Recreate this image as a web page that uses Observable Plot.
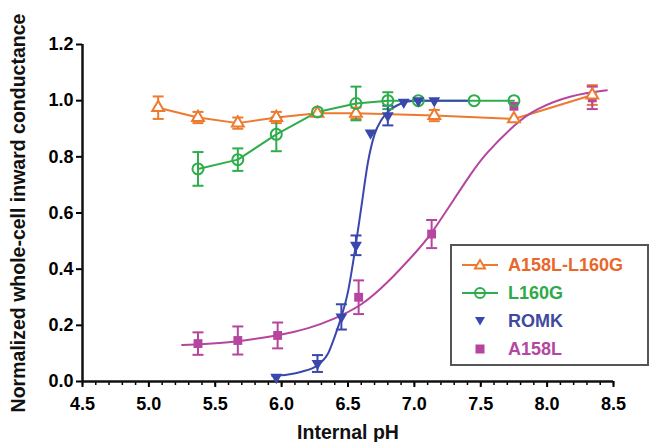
<!DOCTYPE html>
<html>
<head>
<meta charset="utf-8">
<script src="https://cdn.jsdelivr.net/npm/d3@7"></script>
<script src="https://cdn.jsdelivr.net/npm/@observablehq/plot@0.6"></script>
<style>
  html, body { margin: 0; padding: 0; background: #fff; }
  #wrap { position: relative; width: 651px; height: 442px; font-family: 'Liberation Sans', Arial, sans-serif; }
  #legend { position: absolute; left: 450px; top: 244px; width: 195px; height: 118px; border: 2px solid #555; background: #fff; box-sizing: content-box; }
  .row { position: absolute; left: 0; height: 28px; display: flex; align-items: center; font-weight: bold; font-size: 18px; }
  .row svg { width: 40px; height: 20px; margin-left: 8px; margin-right: 8px; }
</style>
</head>
<body>
<div id="wrap"></div>
<script>
// ---- data ----
const seriesNames = ["A158L-L160G", "L160G", "ROMK", "A158L"];
const seriesColors = ["#ED7A2E", "#2EAD4C", "#3A48AE", "#B5459F"];
const legendTextColors = ["#E8682C", "#2EAA4A", "#3E4A9E", "#B4479F"];

// A158L-L160G (orange, open triangles)
const phA  = [5.07, 5.37, 5.67, 5.96, 6.27, 6.56, 7.15, 7.75, 8.34];
const valA = [0.975, 0.94, 0.92, 0.94, 0.955, 0.955, 0.947, 0.935, 1.02];
const errA = [0.04, 0.02, 0.02, 0.02, 0, 0.02, 0.02, 0, 0.035];

// L160G (green, open circles)
const phG  = [5.37, 5.67, 5.96, 6.27, 6.56, 6.80, 7.03, 7.45, 7.75];
const valG = [0.757, 0.79, 0.88, 0.96, 0.99, 1.0, 1.0, 1.0, 1.0];
const errG = [0.06, 0.04, 0.06, 0, 0.06, 0.03, 0, 0, 0];

// ROMK (blue, filled down triangles)
const phR  = [5.96, 6.27, 6.45, 6.56, 6.67, 6.80, 6.92, 7.03, 7.15];
const valR = [0.015, 0.064, 0.23, 0.485, 0.885, 0.947, 0.995, 1.0, 1.0];
const errR = [0, 0.03, 0.045, 0.035, 0, 0.035, 0, 0, 0];
// ROMK fitted curve
const fitPhR  = [5.93, 6.05, 6.15, 6.27, 6.35, 6.40, 6.45, 6.50, 6.55, 6.60, 6.65, 6.70, 6.75, 6.80, 6.90, 7.00, 7.41];
const fitValR = [0.02, 0.025, 0.035, 0.058, 0.10, 0.16, 0.23, 0.32, 0.46, 0.62, 0.78, 0.88, 0.93, 0.96, 0.99, 1.0, 1.0];

// A158L (magenta, filled squares)
const phM  = [5.37, 5.67, 5.97, 6.58, 7.13, 7.75, 8.34];
const valM = [0.135, 0.146, 0.164, 0.30, 0.525, 0.98, 1.01];
const errM = [0.04, 0.05, 0.046, 0.06, 0.05, 0, 0.04];
// A158L fitted curve
const fitPhM  = [5.25, 5.60, 5.97, 6.20, 6.40, 6.60, 6.80, 7.00, 7.13, 7.30, 7.42, 7.55, 7.75, 7.93, 8.18, 8.45];
const fitValM = [0.13, 0.14, 0.165, 0.19, 0.225, 0.275, 0.355, 0.455, 0.53, 0.65, 0.735, 0.815, 0.91, 0.97, 1.015, 1.037];

// axes
const xTicks = [4.5, 5.0, 5.5, 6.0, 6.5, 7.0, 7.5, 8.0, 8.5];
const yTicks = [0, 0.2, 0.4, 0.6, 0.8, 1.0, 1.2];
const xLabel = "Internal pH";
const yLabel = "Normalized whole-cell inward conductance";

// ---- build ----
const rows = (ph, val, err) => ph.map((x, i) => ({x, y: val[i], e: err[i]}));
const A = rows(phA, valA, errA), G = rows(phG, valG, errG), R = rows(phR, valR, errR), M = rows(phM, valM, errM);
const fitR = fitPhR.map((x, i) => ({x, y: fitValR[i]}));
const fitM = fitPhM.map((x, i) => ({x, y: fitValM[i]}));

const capSymbol = {
  draw(ctx, size) { const w = Math.sqrt(size / Math.PI); ctx.moveTo(-w, 0); ctx.lineTo(w, 0); }
};
function errMarks(data, color) {
  const d = data.filter(r => r.e > 0);
  return [
    Plot.ruleX(d, {x: "x", y1: r => r.y - r.e, y2: r => r.y + r.e, stroke: color, strokeWidth: 2}),
    Plot.dot(d, {x: "x", y: r => r.y - r.e, symbol: capSymbol, r: 5.5, fill: "none", stroke: color, strokeWidth: 2}),
    Plot.dot(d, {x: "x", y: r => r.y + r.e, symbol: capSymbol, r: 5.5, fill: "none", stroke: color, strokeWidth: 2})
  ];
}
const [cA, cG, cR, cM] = seriesColors;
const font = "'Liberation Sans', Arial, sans-serif";

const chart = Plot.plot({
  width: 651, height: 442,
  marginLeft: 82, marginRight: 38, marginTop: 44, marginBottom: 61,
  style: {fontFamily: font, background: "#fff", overflow: "visible"},
  x: {domain: [4.5, 8.5]},
  y: {domain: [0, 1.2]},
  marks: [
    Plot.axisX({ticks: d3.range(45, 86).map(d => d / 10), tickSize: 4, text: null, strokeWidth: 1.5, label: null}),
    Plot.axisX({ticks: xTicks, tickSize: 6, tickPadding: 10, tickFormat: ".1f", fontSize: 18, fontWeight: "bold", strokeWidth: 2, label: null}),
    Plot.axisY({ticks: yTicks, tickSize: 6, tickPadding: 3, tickFormat: ".1f", fontSize: 18, fontWeight: "bold", strokeWidth: 2, label: null}),
    Plot.ruleY([0], {x1: 4.5, x2: 8.5, stroke: "#111", strokeWidth: 2.5}),
    Plot.ruleX([4.5], {y1: 0, y2: 1.2, stroke: "#111", strokeWidth: 2.5}),
    Plot.text([yLabel], {text: d => d, frameAnchor: "left", textAnchor: "middle", rotate: -90, dx: -64, fontSize: 19.5, fontWeight: "bold", fill: "#111"}),
    Plot.text([xLabel], {text: d => d, frameAnchor: "bottom", textAnchor: "middle", lineAnchor: "middle", dy: 51, fontSize: 19.5, fontWeight: "bold", fill: "#111"}),
    // connecting lines / fits
    Plot.line(A, {x: "x", y: "y", stroke: cA, strokeWidth: 2}),
    Plot.line(G, {x: "x", y: "y", stroke: cG, strokeWidth: 2}),
    Plot.line(fitM, {x: "x", y: "y", stroke: cM, strokeWidth: 2, curve: "natural"}),
    Plot.line(fitR, {x: "x", y: "y", stroke: cR, strokeWidth: 2, curve: "monotone-x"}),
    // error bars
    ...errMarks(A, cA), ...errMarks(G, cG), ...errMarks(M, cM), ...errMarks(R, cR),
    // markers
    Plot.dot(M, {x: "x", y: "y", symbol: "square", r: 5, fill: cM, stroke: "none"}),
    Plot.dot(A, {x: "x", y: "y", symbol: "triangle", r: 4.4, fill: "#fff", stroke: cA, strokeWidth: 2}),
    Plot.dot(G, {x: "x", y: "y", symbol: "circle", r: 5.5, fill: "none", stroke: cG, strokeWidth: 2}),
    Plot.dot(R, {x: "x", y: "y", symbol: "triangle", rotate: 180, r: 4.4, fill: cR, stroke: "none"})
  ]
});

const wrap = document.getElementById("wrap");
wrap.appendChild(chart);

// legend overlay
const legend = document.createElement("div");
legend.id = "legend";
const sym = [
  `<line x1="2" y1="10" x2="38" y2="10" stroke="${cA}" stroke-width="2"/><path d="M20,5 L25,13.5 L15,13.5 Z" fill="#fff" stroke="${cA}" stroke-width="2"/>`,
  `<line x1="2" y1="10" x2="38" y2="10" stroke="${cG}" stroke-width="2"/><circle cx="20" cy="10" r="5" fill="none" stroke="${cG}" stroke-width="2"/>`,
  `<path d="M15,6 L25,6 L20,14.5 Z" fill="${cR}"/>`,
  `<rect x="15.5" y="5.5" width="9" height="9" fill="${cM}"/>`
];
seriesNames.forEach((name, i) => {
  const row = document.createElement("div");
  row.className = "row";
  row.style.top = (5 + i * 28) + "px";
  row.style.color = legendTextColors[i];
  row.innerHTML = `<svg viewBox="0 0 40 20">${sym[i]}</svg><span>${name}</span>`;
  legend.appendChild(row);
});
wrap.appendChild(legend);
</script>
</body>
</html>
